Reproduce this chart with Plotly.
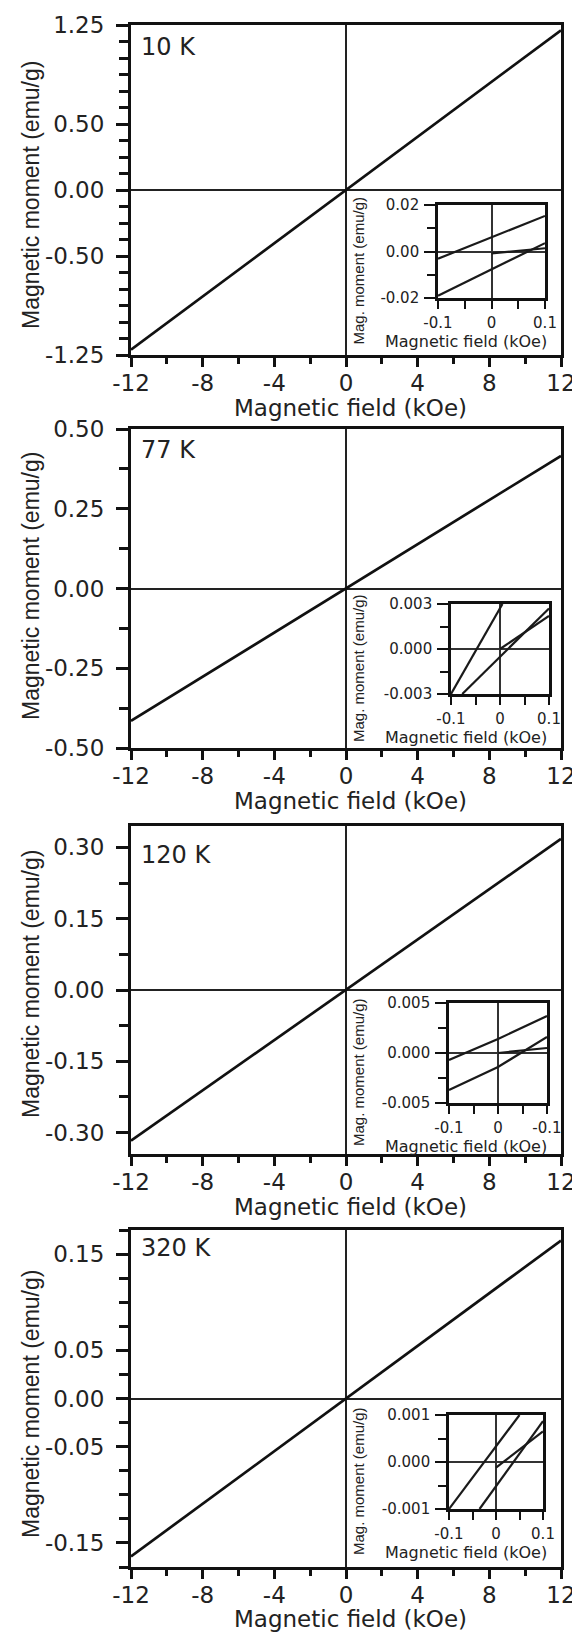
import plotly.graph_objects as go

# ---------------- data ----------------
field_main = [-12, 0, 12]
moment_10K = [-1.21, 0.0, 1.21]
moment_77K = [-0.415, 0.0, 0.416]
moment_120K = [-0.317, 0.0, 0.318]
moment_320K = [-0.164, 0.0, 0.164]

# insets (low-field loops)
in10_up_x = [-0.1, 0.1]
in10_up_y = [-0.0031, 0.0153]
in10_lo_x = [-0.1, 0.1]
in10_lo_y = [-0.0190, 0.0036]
in10_vg_x = [0.0, 0.1]
in10_vg_y = [-0.0008, 0.0014]

in77_up_x = [-0.1, 0.005]
in77_up_y = [-0.003, 0.003]
in77_lo_x = [-0.077, 0.1]
in77_lo_y = [-0.003, 0.0027]
in77_vg_x = [0.0, 0.1]
in77_vg_y = [0.0, 0.0022]

in120_up_x = [-0.1, 0.0, 0.1]
in120_up_y = [-0.0007, 0.0014, 0.0037]
in120_lo_x = [-0.1, 0.0, 0.1]
in120_lo_y = [-0.0037, -0.0014, 0.0016]
in120_vg_x = [0.0, 0.1]
in120_vg_y = [0.0, 0.0005]

in320_a_x = [-0.1, 0.05]
in320_a_y = [-0.001, 0.001]
in320_b_x = [-0.035, 0.1]
in320_b_y = [-0.001, 0.00087]
in320_c_x = [0.0, 0.1]
in320_c_y = [-0.00012, 0.00065]

panel_labels = ["10 K", "77 K", "120 K", "320 K"]
x_major = [-12, -8, -4, 0, 4, 8, 12]
x_minor = [-10, -6, -2, 2, 6, 10]

y_ranges = [[-1.25, 1.25], [-0.5, 0.5], [-0.345, 0.345], [-0.175, 0.175]]
y_labels_vals = [[1.25, 0.5, 0.0, -0.5, -1.25],
                 [0.5, 0.25, 0.0, -0.25, -0.5],
                 [0.3, 0.15, 0.0, -0.15, -0.3],
                 [0.15, 0.05, 0.0, -0.05, -0.15]]
y_labels_text = [["1.25", "0.50", "0.00", "-0.50", "-1.25"],
                 ["0.50", "0.25", "0.00", "-0.25", "-0.50"],
                 ["0.30", "0.15", "0.00", "-0.15", "-0.30"],
                 ["0.15", "0.05", "0.00", "-0.05", "-0.15"]]
y_minor_step = [0.125, 0.125, 0.075, 0.025]

inset_y_range = [0.02, 0.003, 0.005, 0.001]
inset_y_text = [["0.02", "0.00", "-0.02"],
                ["0.003", "0.000", "-0.003"],
                ["0.005", "0.000", "-0.005"],
                ["0.001", "0.000", "-0.001"]]
inset_x_text = [["-0.1", "0", "0.1"],
                ["-0.1", "0", "0.1"],
                ["-0.1", "0", "-0.1"],
                ["-0.1", "0", "0.1"]]

# ---------------- layout geometry (pixels) ----------------
W, H = 572, 1633
main_x = (131, 561)
main_y = [(25, 355), (429, 748), (826, 1154), (1230, 1567)]
inset_box = [(438, 545, 205, 298), (451, 549, 604, 694),
             (449, 547, 1003, 1103), (449, 543, 1415, 1509)]
label_y = [47, 450, 855, 1248]
ytitle_y = [195, 586, 984, 1404]
xtitle_gap = [53, 53, 53, 52]


def xd(a, b):
    return [a / W, b / W]


def yd(top, bottom):
    return [1 - bottom / H, 1 - top / H]


TXT = "#222222"
HFONT = "DejaVu Sans"
VFONT = "Liberation Sans, Arial, sans-serif"

fig = go.Figure()
layout = dict(template="none", width=W, height=H,
              margin=dict(l=0, r=0, t=0, b=0, autoexpand=False),
              paper_bgcolor="white", plot_bgcolor="rgba(0,0,0,0)",
              showlegend=False, annotations=[])

mains = [moment_10K, moment_77K, moment_120K, moment_320K]
insets = [
    [(in10_up_x, in10_up_y), (in10_lo_x, in10_lo_y), (in10_vg_x, in10_vg_y)],
    [(in77_up_x, in77_up_y), (in77_lo_x, in77_lo_y), (in77_vg_x, in77_vg_y)],
    [(in120_up_x, in120_up_y), (in120_lo_x, in120_lo_y), (in120_vg_x, in120_vg_y)],
    [(in320_a_x, in320_a_y), (in320_b_x, in320_b_y), (in320_c_x, in320_c_y)],
]

xaxis_names = []
for i in range(4):
    k = i + 1
    xa = "x" if k == 1 else f"x{k}"
    ya = "y" if k == 1 else f"y{k}"
    fig.add_trace(go.Scatter(x=field_main, y=mains[i], mode="lines",
                             line=dict(color="#111111", width=2.7),
                             xaxis=xa, yaxis=ya, hoverinfo="skip"))
    top, bot = main_y[i]
    yr = y_ranges[i]
    step = y_minor_step[i]
    nmax = int(yr[1] / step + 1e-6)
    yminor = [round(j * step, 6) for j in range(-nmax, nmax + 1)]
    xname = "xaxis" if k == 1 else f"xaxis{k}"
    xaxis_names.append(xname)
    layout[xname] = dict(
        domain=xd(*main_x), anchor=ya, range=[-12, 12], automargin=False,
        showline=True, mirror=True, linecolor="#111111", linewidth=3,
        ticks="outside", ticklen=9, tickwidth=2.5, tickcolor="#111111",
        tickmode="array", tickvals=x_major, ticktext=[str(v) for v in x_major],
        minor=dict(tickmode="array", tickvals=x_minor, ticks="outside",
                   ticklen=6, tickwidth=2.5, tickcolor="#111111", showgrid=False),
        showgrid=False, zeroline=True, zerolinecolor="#222222", zerolinewidth=2.2,
        ticklabeloverflow="allow",
        tickfont=dict(family=HFONT, size=23, color=TXT))
    layout["yaxis" if k == 1 else f"yaxis{k}"] = dict(
        domain=yd(top, bot), anchor=xa, range=yr, automargin=False,
        showline=True, mirror=True, linecolor="#111111", linewidth=3,
        ticks="outside", ticklen=12, tickwidth=2.5, tickcolor="#111111",
        tickmode="array", tickvals=y_labels_vals[i], ticktext=y_labels_text[i],
        minor=dict(tickmode="array", tickvals=yminor, ticks="outside",
                   ticklen=9, tickwidth=2.5, tickcolor="#111111", showgrid=False),
        showgrid=False, zeroline=True, zerolinecolor="#222222", zerolinewidth=2.2,
        ticklabeloverflow="allow", ticklabelstandoff=7,
        tickfont=dict(family=HFONT, size=23, color=TXT))

    # inset
    m = k + 4
    ixa, iya = f"x{m}", f"y{m}"
    for (xx, yy) in insets[i]:
        fig.add_trace(go.Scatter(x=xx, y=yy, mode="lines",
                                 line=dict(color="#1a1a1a", width=2.2),
                                 xaxis=ixa, yaxis=iya, hoverinfo="skip"))
    l, r, t, b = inset_box[i]
    R = inset_y_range[i]
    layout[f"xaxis{m}"] = dict(
        domain=xd(l, r), anchor=iya, range=[-0.1, 0.1], automargin=False,
        showline=True, mirror=True, linecolor="#111111", linewidth=2.6,
        ticks="outside", ticklen=8, tickwidth=2.4, tickcolor="#111111",
        tickmode="array", tickvals=[-0.1, 0.0, 0.1], ticktext=inset_x_text[i],
        minor=dict(tickmode="array", tickvals=[-0.05, 0.05], ticks="outside",
                   ticklen=8, tickwidth=2.4, tickcolor="#111111", showgrid=False),
        showgrid=False, zeroline=True, zerolinecolor="#333333", zerolinewidth=2,
        ticklabeloverflow="allow", ticklabelstandoff=1,
        tickfont=dict(family=HFONT, size=15, color=TXT))
    layout[f"yaxis{m}"] = dict(
        domain=yd(t, b), anchor=ixa, range=[-R, R], automargin=False,
        showline=True, mirror=True, linecolor="#111111", linewidth=2.6,
        ticks="outside", ticklen=11, tickwidth=2.4, tickcolor="#111111",
        tickmode="array", tickvals=[R, 0.0, -R], ticktext=inset_y_text[i],
        minor=dict(tickmode="array", tickvals=[R / 2, -R / 2], ticks="outside",
                   ticklen=8, tickwidth=2.4, tickcolor="#111111", showgrid=False),
        showgrid=False, zeroline=True, zerolinecolor="#333333", zerolinewidth=2,
        ticklabeloverflow="allow", ticklabelstandoff=2,
        tickfont=dict(family=HFONT, size=15, color=TXT))

    # annotations
    layout["annotations"].append(dict(
        text="Magnetic field (kOe)", xref="paper", yref="paper",
        x=350 / W, y=1 - (bot + xtitle_gap[i]) / H, xanchor="center", yanchor="middle",
        showarrow=False, font=dict(family=HFONT, size=23, color=TXT)))
    layout["annotations"].append(dict(
        text="Magnetic moment (emu/g)", xref="paper", yref="paper",
        x=31 / W, y=1 - ytitle_y[i] / H, xanchor="center", yanchor="middle",
        textangle=-90, showarrow=False, font=dict(family=VFONT, size=23, color=TXT)))
    layout["annotations"].append(dict(
        text=panel_labels[i], xref="paper", yref="paper",
        x=139 / W, y=1 - label_y[i] / H, xanchor="left", yanchor="middle",
        showarrow=False, font=dict(family=HFONT, size=24, color=TXT)))
    layout["annotations"].append(dict(
        text="Magnetic field (kOe)", xref="paper", yref="paper",
        x=466 / W, y=1 - (b + 43) / H, xanchor="center", yanchor="middle",
        showarrow=False, font=dict(family=HFONT, size=16, color=TXT)))
    layout["annotations"].append(dict(
        text="Mag. moment (emu/g)", xref="paper", yref="paper",
        x=358 / W, y=1 - ((t + b) / 2 + 19) / H, xanchor="center", yanchor="middle",
        textangle=-90, showarrow=False, font=dict(family=VFONT, size=15, color=TXT)))

fig.update_layout(**layout)

# pull the main x tick labels slightly closer to the axis, if supported
for name in xaxis_names:
    try:
        fig.layout[name].ticklabelstandoff = -4
    except Exception:
        pass

fig.write_html("out.html")
